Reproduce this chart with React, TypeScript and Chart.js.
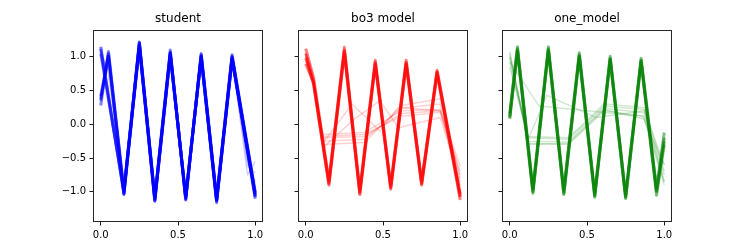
import React, { useEffect, useRef } from "react";
import { Chart, registerables } from "chart.js";

Chart.register(...registerables);

// ---------------- data ----------------
const TITLES = ["student", "bo3 model", "one_model"];
const X_TICKS = [0, 0.5, 1];
const Y_TICKS = [-1, -0.5, 0, 0.5, 1];
const X_MIN = -0.05;
const X_MAX = 1.05;
const Y_MIN = -1.446;
const Y_MAX = 1.397;

// student (blue)
const STU_XA = [0, 0.05, 0.15, 0.25, 0.35, 0.45, 0.55, 0.65, 0.75, 0.85, 1.0];
const stuA1 = [0.35, 1.05, -1.0, 1.18, -1.1, 1.06, -1.09, 1.02, -1.12, 1.0, -1.05];
const stuA2 = [0.42, 1.02, -1.04, 1.14, -1.14, 1.02, -1.06, 0.99, -1.16, 0.96, -1.1];
const stuA3 = [0.28, 1.08, -0.97, 1.22, -1.07, 1.1, -1.12, 1.05, -1.09, 1.03, -1.0];
const stuA4 = [0.38, 1.0, -1.02, 1.2, -1.12, 1.04, -1.1, 1.0, -1.13, 0.98, -1.07];
const STU_XB = [0, 0.15, 0.25, 0.35, 0.45, 0.55, 0.65, 0.75, 0.85, 1.0];
const stuB1 = [1.12, -1.01, 1.19, -1.11, 1.05, -1.08, 1.01, -1.12, 0.99, -1.04];
const stuB2 = [1.05, -0.98, 1.16, -1.09, 1.07, -1.11, 1.03, -1.1, 1.01, -1.08];
const stuB3 = [1.15, -1.03, 1.21, -1.13, 1.03, -1.07, 0.99, -1.14, 0.97, -1.02];
const STU_XC = [0, 0.05, 0.15, 0.25, 0.35, 0.45, 0.55, 0.65, 0.75, 0.85, 0.95, 1.0];
const stuC1 = [0.36, 1.04, -1.0, 1.18, -1.1, 1.05, -1.09, 1.01, -1.12, 0.99, -0.62, -0.72];
const stuC2 = [0.4, 1.02, -1.01, 1.17, -1.11, 1.04, -1.08, 1.0, -1.13, 0.98, -0.75, -0.55];
const stuC3 = [1.1, 0.75, -1.0, 1.19, -1.1, 1.06, -1.1, 1.02, -1.11, 1.0, -0.55, -0.85];

// bo3 model (red)
const BO3_X = [0, 0.05, 0.15, 0.25, 0.35, 0.45, 0.55, 0.65, 0.75, 0.85, 1.0];
const bo3M1 = [1.05, 0.65, -0.86, 1.1, -1.0, 0.92, -0.93, 0.92, -0.87, 0.78, -1.08];
const bo3M2 = [0.98, 0.6, -0.9, 1.05, -1.04, 0.88, -0.96, 0.88, -0.9, 0.75, -1.12];
const bo3M3 = [1.12, 0.7, -0.83, 1.14, -0.97, 0.95, -0.9, 0.95, -0.84, 0.8, -1.03];
const bo3M4 = [0.9, 0.62, -0.88, 1.08, -1.02, 0.9, -0.94, 0.9, -0.88, 0.77, -1.06];
const BO3_XF = [0, 0.05, 0.11, 0.38, 0.62, 0.87, 1.0];
const bo3F1 = [1.0, 0.62, -0.15, -0.12, 0.2, 0.22, -0.62];
const bo3F2 = [1.05, 0.65, -0.2, -0.18, 0.16, 0.2, -0.9];
const bo3F3 = [0.95, 0.58, -0.25, -0.22, 0.24, 0.3, -1.0];
const bo3F4 = [1.02, 0.6, -0.18, -0.15, 0.12, 0.18, -0.75];
const bo3F5 = [0.98, 0.63, -0.3, -0.27, 0.28, 0.38, -0.8];
const BO3_XG = [0, 0.05, 0.12, 0.3, 0.48, 0.6, 0.87, 1.0];
const bo3G1 = [1.0, 0.6, -0.25, 0.3, -0.1, 0.25, 0.2, -0.7];
const bo3G2 = [1.03, 0.62, -0.33, 0.05, 0.35, -0.05, 0.1, -0.85];

// one_model (green)
const ONE_X = [0, 0.05, 0.15, 0.25, 0.35, 0.45, 0.55, 0.65, 0.75, 0.85, 0.95, 1.0];
const oneM1 = [0.12, 1.12, -0.98, 1.12, -1.0, 1.03, -1.05, 0.98, -1.07, 0.95, -1.0, -0.2];
const oneM2 = [0.08, 1.08, -1.02, 1.08, -1.04, 1.0, -1.08, 0.95, -1.1, 0.92, -1.05, -0.3];
const oneM3 = [0.16, 1.15, -0.95, 1.15, -0.97, 1.06, -1.02, 1.01, -1.04, 0.98, -0.95, -0.12];
const oneM4 = [0.1, 1.1, -1.0, 1.1, -1.02, 1.01, -1.06, 0.96, -1.08, 0.94, -0.98, -0.25];
const ONE_XF = [0, 0.12, 0.38, 0.61, 0.87, 1.0];
const oneF1 = [1.0, -0.2, -0.22, 0.27, 0.22, -0.6];
const oneF2 = [0.92, -0.25, -0.26, 0.24, 0.17, -0.75];
const oneF3 = [1.08, -0.28, -0.3, 0.2, 0.12, -0.85];
const oneF4 = [0.85, -0.18, -0.2, 0.3, 0.25, -0.7];
const oneF5 = [1.05, -0.3, -0.28, 0.22, 0.08, -0.9];
const ONE_XG = [0, 0.19, 0.86, 1.0];
const oneG1 = [0.93, 0.27, 0.12, -0.6];
const ONE_XH = [0, 0.12, 0.24, 0.56, 0.87, 1.0];
const oneH1 = [1.0, -0.22, 0.43, 0.1, 0.2, -0.85];

// ---------------- layout / style ----------------
const FIG_H = 249;
const AX_LEFTS = [93, 298, 502];
const AX_W = 170;
const AX_BOTTOM = 222;
const PAD = 45;
const COLORS = ["0,0,255", "255,0,0", "0,128,0"];
const MAIN = { alpha: 0.5, width: 3 };
const FAINT = { alpha: 0.18, width: 1.5 };

type Series = { x: number[]; y: number[]; kind: "main" | "faint" };

const PANELS: Series[][] = [
  [
    { x: STU_XC, y: stuC1, kind: "faint" },
    { x: STU_XC, y: stuC2, kind: "faint" },
    { x: STU_XC, y: stuC3, kind: "faint" },
    { x: STU_XA, y: stuA1, kind: "main" },
    { x: STU_XA, y: stuA2, kind: "main" },
    { x: STU_XA, y: stuA3, kind: "main" },
    { x: STU_XA, y: stuA4, kind: "main" },
    { x: STU_XB, y: stuB1, kind: "main" },
    { x: STU_XB, y: stuB2, kind: "main" },
    { x: STU_XB, y: stuB3, kind: "main" },
  ],
  [
    { x: BO3_XF, y: bo3F1, kind: "faint" },
    { x: BO3_XF, y: bo3F2, kind: "faint" },
    { x: BO3_XF, y: bo3F3, kind: "faint" },
    { x: BO3_XF, y: bo3F4, kind: "faint" },
    { x: BO3_XF, y: bo3F5, kind: "faint" },
    { x: BO3_XG, y: bo3G1, kind: "faint" },
    { x: BO3_XG, y: bo3G2, kind: "faint" },
    { x: BO3_X, y: bo3M1, kind: "main" },
    { x: BO3_X, y: bo3M2, kind: "main" },
    { x: BO3_X, y: bo3M3, kind: "main" },
    { x: BO3_X, y: bo3M4, kind: "main" },
  ],
  [
    { x: ONE_XF, y: oneF1, kind: "faint" },
    { x: ONE_XF, y: oneF2, kind: "faint" },
    { x: ONE_XF, y: oneF3, kind: "faint" },
    { x: ONE_XF, y: oneF4, kind: "faint" },
    { x: ONE_XF, y: oneF5, kind: "faint" },
    { x: ONE_XG, y: oneG1, kind: "faint" },
    { x: ONE_XH, y: oneH1, kind: "faint" },
    { x: ONE_X, y: oneM1, kind: "main" },
    { x: ONE_X, y: oneM2, kind: "main" },
    { x: ONE_X, y: oneM3, kind: "main" },
    { x: ONE_X, y: oneM4, kind: "main" },
  ],
];

const FONT = "'DejaVu Sans', Verdana, sans-serif";

const fmt = (v: number) => {
  const s = Math.abs(v).toFixed(1);
  return v < -1e-9 ? "\u2212" + s : s;
};

const framePlugin = {
  id: "frame",
  afterDraw(chart: any) {
    const { ctx, chartArea } = chart;
    const l = Math.round(chartArea.left) + 0.5;
    const t = Math.round(chartArea.top) + 0.5;
    const r = Math.round(chartArea.right) - 0.5;
    const b = Math.round(chartArea.bottom) - 0.5;
    ctx.save();
    ctx.strokeStyle = "rgba(0,0,0,0.85)";
    ctx.lineWidth = 1;
    ctx.strokeRect(l, t, r - l, b - t);
    ctx.restore();
  },
};

function Panel({ index }: { index: number }) {
  const ref = useRef<HTMLCanvasElement | null>(null);
  useEffect(() => {
    if (!ref.current) return;
    const rgb = COLORS[index];
    const datasets = PANELS[index].map((s) => {
      const st = s.kind === "main" ? MAIN : FAINT;
      return {
        data: s.x.map((x, i) => ({ x, y: s.y[i] })),
        borderColor: `rgba(${rgb},${st.alpha})`,
        backgroundColor: `rgba(${rgb},${st.alpha})`,
        borderWidth: st.width,
        pointRadius: 0,
        showLine: true,
        fill: false,
        tension: 0,
        borderJoinStyle: "round" as const,
      };
    });
    const chart = new Chart(ref.current, {
      type: "scatter",
      data: { datasets },
      options: {
        animation: false,
        responsive: false,
        devicePixelRatio: 1,
        events: [],
        layout: { padding: 0 },
        plugins: {
          legend: { display: false },
          tooltip: { enabled: false },
          title: {
            display: true,
            text: TITLES[index],
            color: "#000",
            font: { family: FONT, size: 12, weight: "normal" },
            padding: { top: 11.6, bottom: 4 },
          },
        },
        scales: {
          x: {
            type: "linear",
            min: X_MIN,
            max: X_MAX,
            afterBuildTicks: (scale: any) => {
              scale.ticks = X_TICKS.map((v) => ({ value: v }));
            },
            afterFit: (scale: any) => {
              scale.height = FIG_H - AX_BOTTOM;
            },
            grid: {
              display: true,
              drawOnChartArea: false,
              drawTicks: true,
              tickLength: 3.5,
              color: "#000",
              lineWidth: 0.9,
            },
            border: { display: false },
            ticks: {
              color: "#000",
              padding: 3.5,
              maxRotation: 0,
              font: { family: FONT, size: 10 },
              callback: (v: any) => fmt(Number(v)),
            },
          },
          y: {
            type: "linear",
            position: "left",
            min: Y_MIN,
            max: Y_MAX,
            afterBuildTicks: (scale: any) => {
              scale.ticks = Y_TICKS.map((v) => ({ value: v }));
            },
            afterFit: (scale: any) => {
              scale.width = PAD;
            },
            grid: {
              display: true,
              drawOnChartArea: false,
              drawTicks: true,
              tickLength: 3.5,
              color: "#000",
              lineWidth: 0.9,
            },
            border: { display: false },
            ticks: {
              display: index === 0,
              color: "#000",
              padding: 3.5,
              font: { family: FONT, size: 10 },
              callback: (v: any) => fmt(Number(v)),
            },
          },
          yRightSpacer: {
            type: "linear",
            position: "right",
            display: true,
            min: Y_MIN,
            max: Y_MAX,
            afterFit: (scale: any) => {
              scale.width = PAD;
            },
            grid: { display: false, drawTicks: false },
            border: { display: false },
            ticks: { display: false },
          },
        },
      } as any,
      plugins: [framePlugin],
    });
    return () => chart.destroy();
  }, [index]);

  const w = AX_W + 2 * PAD;
  return (
    <canvas
      ref={ref}
      width={w}
      height={FIG_H}
      style={{
        position: "absolute",
        left: AX_LEFTS[index] - PAD,
        top: 0,
        width: w,
        height: FIG_H,
      }}
    />
  );
}

export default function App() {
  return (
    <div
      style={{
        position: "absolute",
        left: 0,
        top: 0,
        width: 747,
        height: FIG_H,
        background: "#fff",
        overflow: "hidden",
      }}
    >
      {TITLES.map((_, i) => (
        <Panel key={i} index={i} />
      ))}
    </div>
  );
}
